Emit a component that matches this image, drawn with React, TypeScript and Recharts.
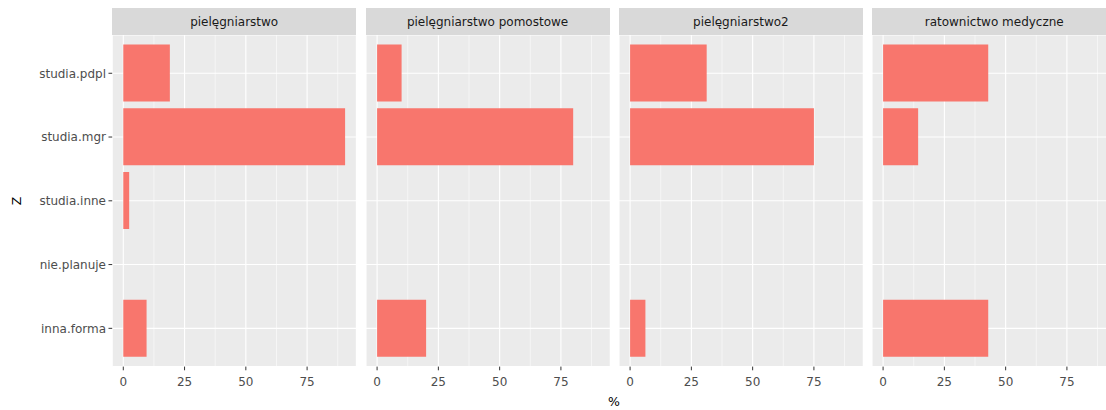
import React from 'react';
import { BarChart, Bar, XAxis, YAxis, CartesianGrid } from 'recharts';

const categories = ['studia.pdpl', 'studia.mgr', 'studia.inne', 'nie.planuje', 'inna.forma'];
const panelNames = ['pielęgniarstwo', 'pielęgniarstwo pomostowe', 'pielęgniarstwo2', 'ratownictwo medyczne'];
const pielegniarstwo = [19.0, 90.5, 2.4, 0, 9.5];
const pomostowe = [10, 80, 0, 0, 20];
const pielegniarstwo2 = [31.25, 75, 0, 0, 6.25];
const ratownictwo = [42.9, 14.3, 0, 0, 42.9];
const majorTicks = [0, 25, 50, 75];
const allTicks = [0, 12.5, 25, 37.5, 50, 62.5, 75, 87.5];
const xTitle = '%';
const yTitle = 'Z';

const seriesList = [pielegniarstwo, pomostowe, pielegniarstwo2, ratownictwo];
const maxVal = Math.max(...seriesList.flat());
const pad = maxVal * 0.05;
const domain: [number, number] = [-pad, maxVal + pad];

const FONT = '"DejaVu Sans", "Liberation Sans", sans-serif';
const PANEL_W = 244;
const PANEL_TOP = 35;
const PANEL_BOTTOM = 366.6;
const CHART_H = 410;
const Y_AXIS_W = 112.2;
const PANEL_STEP = 253.35;
const BAND = (PANEL_BOTTOM - PANEL_TOP) / 5.2;
const Y_PAD = BAND * 0.1;

const XTick = (props: any) => {
  const { x, y, payload } = props;
  if (!majorTicks.includes(payload.value)) return null;
  return (
    <g>
      <line x1={x} x2={x} y1={y} y2={y + 3.7} stroke="#333333" strokeWidth={1} />
      <text x={x} y={y + 19.5} textAnchor="middle" fill="#4D4D4D" fontSize={12} fontFamily={FONT}>
        {payload.value}
      </text>
    </g>
  );
};

const vLine = (props: any) => {
  const { x1, y1, x2, y2, index } = props;
  const minor = index % 2 === 1;
  return (
    <line
      key={`v-${index}`}
      x1={x1}
      y1={y1}
      x2={x2}
      y2={y2}
      stroke="#FFFFFF"
      strokeWidth={minor ? 0.55 : 1.1}
    />
  );
};

function Panel({ idx }: { idx: number }) {
  const values = seriesList[idx];
  const data = categories.map((c, i) => ({ cat: c, v: values[i] }));
  const first = idx === 0;
  const left = first ? 0 : 112.2 + idx * PANEL_STEP;
  const width = first ? Y_AXIS_W + PANEL_W : PANEL_W;
  return (
    <div style={{ position: 'absolute', left, top: 0, width, height: CHART_H }}>
      <BarChart
        width={width}
        height={CHART_H}
        data={data}
        layout="vertical"
        margin={{ top: PANEL_TOP, right: 0, bottom: 0, left: 0 }}
        barCategoryGap="5%"
      >
        <CartesianGrid
          fill="#EBEBEB"
          stroke="#FFFFFF"
          strokeWidth={1.1}
          vertical={vLine}
          horizontal={{ stroke: '#FFFFFF', strokeWidth: 1.1 }}
        />
        <XAxis
          type="number"
          dataKey="v"
          domain={domain}
          ticks={allTicks}
          interval={0}
          axisLine={false}
          tickLine={false}
          tickSize={0}
          tickMargin={0}
          tick={<XTick />}
          height={CHART_H - PANEL_BOTTOM}
          allowDataOverflow
        />
        <YAxis
          type="category"
          dataKey="cat"
          hide={!first}
          width={first ? Y_AXIS_W : 0}
          axisLine={false}
          tickLine={{ stroke: '#333333', strokeWidth: 1 }}
          tickSize={3.7}
          tickMargin={2.5}
          interval={0}
          padding={{ top: Y_PAD, bottom: Y_PAD }}
          tick={{ fill: '#4D4D4D', fontSize: 12, fontFamily: FONT }}
        />
        <Bar dataKey="v" fill="#F8766D" isAnimationActive={false} />
      </BarChart>
      <div
        style={{
          position: 'absolute',
          left: first ? Y_AXIS_W : 0,
          top: 8,
          width: PANEL_W,
          height: PANEL_TOP - 8,
          background: '#D9D9D9',
          color: '#1A1A1A',
          fontSize: 12,
          fontFamily: FONT,
          display: 'flex',
          alignItems: 'center',
          justifyContent: 'center',
          whiteSpace: 'nowrap',
        }}
      >
        {panelNames[idx]}
      </div>
    </div>
  );
}

export default function App() {
  return (
    <div
      style={{
        position: 'fixed',
        left: 0,
        top: 0,
        width: 1106,
        height: 410,
        overflow: 'hidden',
        background: '#FFFFFF',
        fontFamily: FONT,
      }}
    >
      {panelNames.map((_, i) => (
        <Panel key={i} idx={i} />
      ))}
      <svg width={1106} height={410} style={{ position: 'absolute', left: 0, top: 0, pointerEvents: 'none' }}>
        <text
          x={0}
          y={0}
          transform="translate(20.5 201) rotate(-90)"
          textAnchor="middle"
          fontSize={12.5}
          fill="#000000"
          fontFamily={FONT}
        >
          {yTitle}
        </text>
        <text x={614} y={406} textAnchor="middle" fontSize={12.5} fill="#000000" fontFamily={FONT}>
          {xTitle}
        </text>
      </svg>
    </div>
  );
}
